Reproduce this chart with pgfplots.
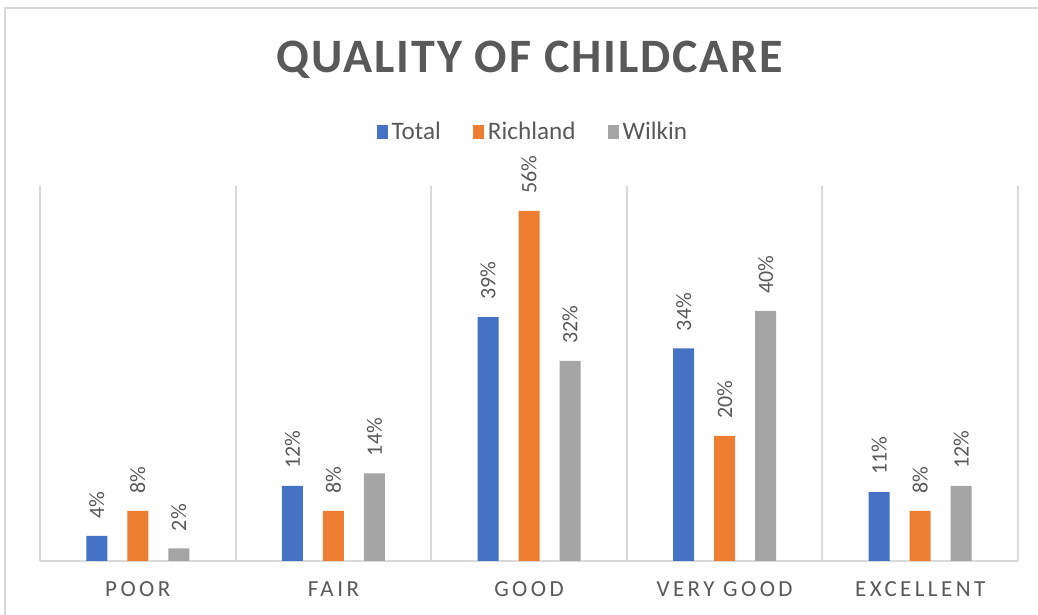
\documentclass[border=0pt]{standalone}
\usepackage{fontspec}
\setmainfont{Carlito}
\newfontfamily\titlefont[LetterSpace=4]{Carlito}
\newfontfamily\tickfont[LetterSpace=15]{Carlito}
\usepackage{pgfplots}
\pgfplotsset{compat=1.18}
\definecolor{cTotal}{HTML}{4472C4}
\definecolor{cRich}{HTML}{ED7D31}
\definecolor{cWilk}{HTML}{A5A5A5}
\definecolor{textgray}{HTML}{595959}
\definecolor{gridgray}{HTML}{D9D9D9}
\begin{document}
\begin{tikzpicture}
\useasboundingbox (0,0) rectangle (519pt,307.5pt);
\draw[draw=gridgray, line width=1pt] (2.5pt,0) -- (2.5pt,303.5pt) -- (519pt,303.5pt);
\node[text=textgray, font=\titlefont\bfseries\fontsize{24}{28}\selectfont, anchor=base, inner sep=0pt] at (265pt,271pt) {QUALITY OF CHILDCARE};
\begin{axis}[
  at={(20pt,27pt)}, anchor=south west,
  scale only axis, width=489pt, height=187.5pt,
  xmin=-0.5, xmax=4.5, ymin=0, ymax=60,
  ybar=10pt, bar width=10.5pt,
  axis y line=none, axis x line*=bottom,
  x axis line style={draw=gridgray, line width=1pt, -},
  xtick={0,1,2,3,4},
  xticklabels={POOR,FAIR,GOOD,VERY GOOD,EXCELLENT},
  xticklabel style={font=\tickfont\fontsize{11.5}{14}\selectfont, text=textgray, yshift=-7pt},
  major tick length=0pt,
  minor xtick={-0.5,0.5,1.5,2.5,3.5,4.5},
  minor tick length=0pt,
  xminorgrids,
  minor grid style={draw=gridgray, line width=1pt},
  clip=false,
  /pgf/number format/assume math mode=true,
  nodes near coords={\pgfmathprintnumber{\pgfplotspointmeta}\%},
  every node near coord/.append style={rotate=90, anchor=west, font=\fontsize{11}{13}\selectfont, text=textgray, inner xsep=8.5pt},
  legend style={at={(0.505,1)}, anchor=center, yshift=27pt, draw=none, fill=none, text=textgray, font=\fontsize{12.6}{14}\selectfont, /tikz/every even column/.style={column sep=14pt}, inner sep=0pt},
  legend columns=3,
  legend image code/.code={\fill[#1] (0pt,-3.5pt) rectangle (5.5pt,3.5pt);},
]
\addplot[fill=cTotal, draw=none] coordinates {(0,4) (1,12) (2,39) (3,34) (4,11)};
\addplot[fill=cRich, draw=none] coordinates {(0,8) (1,8) (2,56) (3,20) (4,8)};
\addplot[fill=cWilk, draw=none] coordinates {(0,2) (1,14) (2,32) (3,40) (4,12)};
\legend{Total,Richland,Wilkin}
\end{axis}
\end{tikzpicture}
\end{document}
